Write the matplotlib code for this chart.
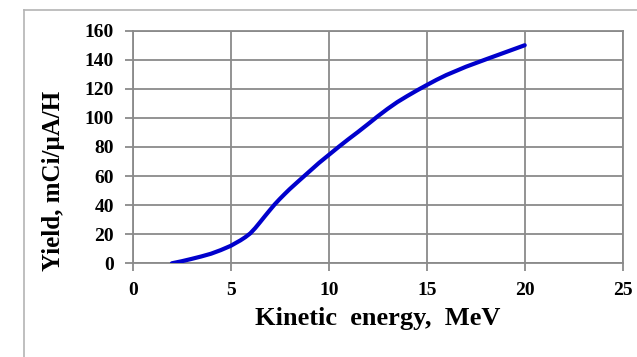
import numpy as np
from matplotlib import pyplot as plt
from matplotlib.lines import Line2D

# Yield curve vs. beam kinetic energy
energy = [2, 2.5, 3, 3.5, 4, 4.5, 5, 5.5, 5.75, 6, 6.25, 6.5, 6.75, 7, 7.25, 7.5, 7.75, 8,
          8.5, 9, 9.5, 10, 10.5, 11, 11.5, 12, 12.5, 13, 13.5, 14, 14.5, 15, 15.5, 16,
          17, 18, 19, 20]
yield_vals = [0, 1.4, 3, 4.7, 6.6, 9.1, 12, 15.8, 18, 20.6, 24.2, 28.3, 32.5, 36.6, 40.6, 44.2,
              47.6, 50.9, 57, 63, 69, 74.5, 80, 85.3, 90.4, 95.7, 101.1, 106.2, 110.9, 115,
              118.9, 122.6, 126.2, 129.5, 135.2, 140.2, 145.1, 150]
xticks = [0, 5, 10, 15, 20, 25]
yticks = [0, 20, 40, 60, 80, 100, 120, 140, 160]

plt.rcParams['font.family'] = ['Liberation Serif', 'DejaVu Serif']
plt.rcParams['font.weight'] = 'bold'

fig = plt.figure(figsize=(6.37, 3.57), dpi=100)
ax = fig.add_axes([0.2083, 0.2625, 0.7693, 0.6515])

grid_c = '#8a8a8a'
ax.plot(energy, yield_vals, color='#0000cc', lw=3.0, solid_capstyle='round',
        solid_joinstyle='round', zorder=3)

ax.set_xlim(0, 25)
ax.set_ylim(0, 160)
ax.set_xticks(xticks)
ax.set_yticks(yticks)
ax.grid(True, color=grid_c, lw=1.3)
for s in ax.spines.values():
    s.set_color(grid_c)
    s.set_linewidth(1.3)
ax.tick_params(axis='both', direction='out', length=5.5, width=1.3, color=grid_c,
               labelsize=14, pad=8)
for lab in ax.get_xticklabels() + ax.get_yticklabels():
    lab.set_fontweight('bold')

ax.set_xlabel('Kinetic  energy,  MeV', fontsize=19, fontweight='bold', labelpad=6)
ax.set_ylabel('Yield, mCi/\u03bcA/H', fontsize=18, fontweight='bold')
ax.yaxis.set_label_coords(-0.138, 0.354)

# outer chart frame
fig.add_artist(Line2D([24 / 637, 24 / 637], [0, 1 - 10 / 357], transform=fig.transFigure,
                      color='#b4b4b4', lw=1.2))
fig.add_artist(Line2D([24 / 637, 1], [1 - 10 / 357, 1 - 10 / 357], transform=fig.transFigure,
                      color='#b4b4b4', lw=1.2))

fig.savefig('out.png', dpi=100)
